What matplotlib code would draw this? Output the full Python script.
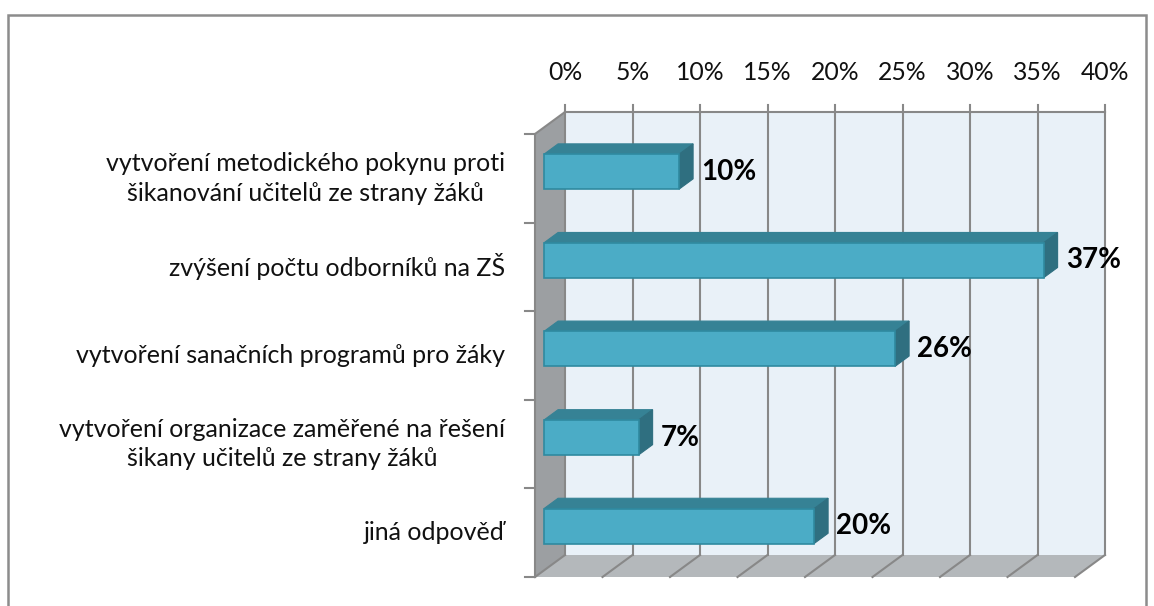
import matplotlib
matplotlib.use("Agg")
import matplotlib.pyplot as plt
from matplotlib.patches import Polygon, Rectangle

categories = [
    "vytvoření metodického pokynu proti\nšikanování učitelů ze strany žáků",
    "zvýšení počtu odborníků na ZŠ",
    "vytvoření sanačních programů pro žáky",
    "vytvoření organizace zaměřené na řešení\nšikany učitelů ze strany žáků",
    "jiná odpověď",
]
values = [10, 37, 26, 7, 20]
ticks = [0, 5, 10, 15, 20, 25, 30, 35, 40]
tick_labels = [f"{t}%" for t in ticks]

FONT = "Lato"
W, H = 1154, 606
fig = plt.figure(figsize=(W / 100, H / 100), dpi=100)
fig.patch.set_facecolor("white")

# back wall axes (pixels)
L, R, T, B = 565, 1105, 112, 555
ax = fig.add_axes([L / W, (H - B) / H, (R - L) / W, (B - T) / H])
ax.set_xlim(0, 40)
ax.set_ylim(5, 0)
ax.set_axis_off()

px_x = (R - L) / 40.0
px_y = (B - T) / 5.0
DX = -30 / px_x
DY = 22 / px_y
n = len(categories)


def P(x, y, d):
    return (x + (1 - d) * DX, y + (1 - d) * DY)


grid_c = "#888888"
lw = 1.5

# side wall
ax.add_patch(Polygon([P(0, 0, 1), P(0, n, 1), P(0, n, 0), P(0, 0, 0)],
                     closed=True, facecolor="#9c9fa2", edgecolor="none", clip_on=False, zorder=1))
# floor
ax.add_patch(Polygon([P(0, n, 1), P(40, n, 1), P(40, n, 0), P(0, n, 0)],
                     closed=True, facecolor="#b4b8bb", edgecolor="none", clip_on=False, zorder=1))
# back wall
ax.add_patch(Rectangle((0, 0), 40, n, facecolor="#e9f1f8", edgecolor="none", clip_on=False, zorder=1))

# gridlines
for t, lab in zip(ticks, tick_labels):
    ax.plot([t, t], [0, n], color=grid_c, lw=lw, clip_on=False, zorder=2)
    x0, y0 = P(t, n, 1)
    x1, y1 = P(t, n, 0)
    ax.plot([x0, x1], [y0, y1], color=grid_c, lw=lw, clip_on=False, zorder=2)
    ax.plot([t, t], [0, -7 / px_y], color=grid_c, lw=lw, clip_on=False, zorder=2)
    ax.text(t, -(T - 72) / px_y, lab, ha="center", va="center", fontsize=17.8,
            family=FONT, color="#111111", clip_on=False)
ax.plot([0, 40], [0, 0], color=grid_c, lw=lw, clip_on=False, zorder=2)

# left axis line and ticks
fx0, fy0 = P(0, 0, 0)
fx1, fy1 = P(0, n, 0)
ax.plot([fx0, fx1], [fy0, fy1], color=grid_c, lw=lw, clip_on=False, zorder=2)
ax.plot([fx0, 0], [fy0, 0], color=grid_c, lw=lw, clip_on=False, zorder=2)
for k in range(n + 1):
    x, y = P(0, k, 0)
    ax.plot([x - 10 / px_x, x], [y, y], color=grid_c, lw=lw, clip_on=False, zorder=2)

# bars
d_front, d_back = 0.3, 0.77
hh = 0.395 / 2
c_front, c_top, c_side, c_edge = "#4bacc6", "#368295", "#2f6f80", "#2f8aa0"
for i, v in enumerate(values):
    yc = i + 0.5
    y0, y1 = yc - hh, yc + hh
    ftl = P(0, y0, d_front); ftr = P(v, y0, d_front)
    fbl = P(0, y1, d_front); fbr = P(v, y1, d_front)
    btl = P(0, y0, d_back); btr = P(v, y0, d_back)
    bbr = P(v, y1, d_back)
    ax.add_patch(Polygon([ftl, ftr, btr, btl], closed=True, facecolor=c_top,
                         edgecolor=c_top, lw=0.8, clip_on=False, zorder=4))
    ax.add_patch(Polygon([ftr, btr, bbr, fbr], closed=True, facecolor=c_side,
                         edgecolor=c_side, lw=0.8, clip_on=False, zorder=4))
    ax.add_patch(Polygon([ftl, ftr, fbr, fbl], closed=True, facecolor=c_front,
                         edgecolor=c_edge, lw=1.2, clip_on=False, zorder=5))
    cx, cy = P(v, yc, d_front)
    ax.text(v + 0.1, cy, f"{v}%", ha="left", va="center", fontsize=20, fontweight="bold",
            family=FONT, color="black", clip_on=False, zorder=6)

# category labels
for i, c in enumerate(categories):
    x, y = P(0, i + 0.5, 0)
    ax.text((505 - L) / px_x, y, c, ha="right", va="center", multialignment="center",
            fontsize=18, family=FONT, color="#111111", linespacing=1.35, clip_on=False)

# outer frame
fig.add_artist(Rectangle((8 / W, -0.05), (1146 - 8) / W, 1.05 - 15 / H,
                         transform=fig.transFigure, facecolor="none",
                         edgecolor="#8c8c8c", lw=1.8))

fig.savefig("out.png", dpi=100)
